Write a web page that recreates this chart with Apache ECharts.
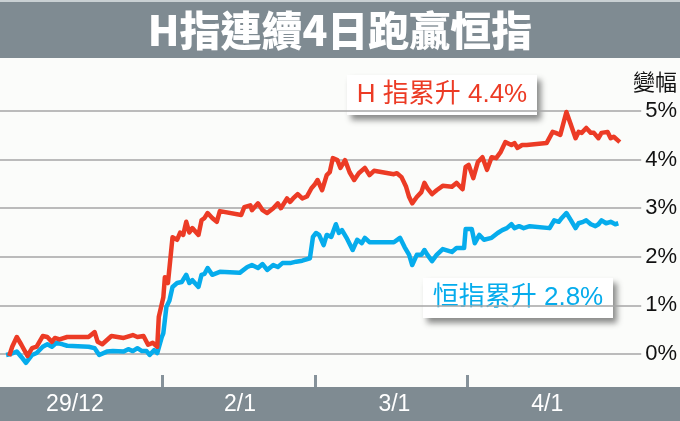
<!DOCTYPE html>
<html>
<head>
<meta charset="utf-8">
<script src="https://cdn.jsdelivr.net/npm/echarts@6/dist/echarts.min.js"></script>
<style>html,body{margin:0;padding:0;background:#fbfcfa;}#c{width:680px;height:421px;}</style>
</head>
<body>
<div id="c"></div>
<script>
// Trading-day labels (one per day)
const tickLabels = ['29/12', '2/1', '3/1', '4/1'];
const titleText = 'H指連續4日跑贏恒指';
const yUnitName = '變幅';

// H-share index cumulative change (%) — time in trading days from start
const hT = [0.00,0.02,0.05,0.08,0.12,0.15,0.18,0.22,0.25,0.28,0.30,0.33,0.38,0.52,0.56,0.58,0.61,0.67,0.75,0.81,0.84,0.88,0.91,0.94,0.97,0.98,
  1.01,1.02,1.04,1.07,1.10,1.12,1.14,1.16,1.18,1.20,1.24,1.26,1.28,1.30,1.33,1.36,1.38,1.52,1.54,1.58,1.59,1.63,1.66,1.69,1.73,1.76,1.78,1.82,1.84,1.86,1.89,1.92,1.95,1.98,
  2.00,2.02,2.05,2.08,2.10,2.12,2.15,2.17,2.20,2.23,2.26,2.29,2.33,2.36,2.39,2.52,2.54,2.57,2.60,2.62,2.64,2.67,2.70,2.72,2.74,2.77,2.80,2.84,2.90,2.93,2.97,2.99,
  3.01,3.04,3.07,3.10,3.13,3.16,3.19,3.22,3.25,3.29,3.31,3.33,3.36,3.39,3.52,3.56,3.58,3.61,3.65,3.68,3.71,3.73,3.75,3.78,3.81,3.83,3.86,3.88,3.92,3.94,3.96,4.00];
const hV = [-0.04,0.15,0.35,0.19,-0.04,0.12,0.15,0.37,0.35,0.25,0.33,0.30,0.35,0.35,0.45,0.25,0.20,0.37,0.33,0.39,0.35,0.37,0.19,0.23,0.15,0.76,
  1.17,1.58,1.46,2.40,2.35,2.50,2.45,2.72,2.50,2.59,2.45,2.75,2.80,2.90,2.80,2.72,2.94,2.86,3.02,3.06,2.96,3.10,2.96,2.90,3.00,3.10,3.00,3.20,3.13,3.20,3.29,3.20,3.24,3.41,
  3.48,3.58,3.37,3.68,3.74,4.03,3.99,3.83,3.99,3.74,3.58,3.72,3.83,3.68,3.77,3.70,3.72,3.64,3.44,3.23,3.10,3.23,3.33,3.52,3.41,3.29,3.37,3.46,3.44,3.52,3.39,3.85,
  3.89,3.62,3.95,4.05,3.79,4.05,4.03,4.16,4.36,4.30,4.34,4.24,4.30,4.30,4.34,4.57,4.55,4.51,4.98,4.71,4.44,4.57,4.55,4.65,4.55,4.55,4.44,4.55,4.57,4.44,4.47,4.36];

// Hang Seng index cumulative change (%)
const hsT = [-0.02,0.01,0.05,0.08,0.11,0.15,0.18,0.22,0.25,0.28,0.31,0.35,0.38,0.52,0.56,0.59,0.64,0.68,0.75,0.78,0.81,0.84,0.87,0.90,0.92,0.95,0.97,
  1.00,1.01,1.03,1.05,1.07,1.10,1.13,1.16,1.18,1.20,1.24,1.26,1.28,1.30,1.33,1.38,1.51,1.56,1.59,1.63,1.66,1.69,1.73,1.76,1.79,1.84,1.88,1.92,1.93,1.97,1.99,
  2.01,2.03,2.06,2.08,2.11,2.14,2.16,2.18,2.21,2.25,2.28,2.31,2.33,2.36,2.52,2.56,2.59,2.62,2.64,2.67,2.70,2.72,2.74,2.77,2.80,2.84,2.90,2.93,2.98,2.99,
  3.03,3.05,3.08,3.11,3.16,3.20,3.23,3.26,3.29,3.31,3.34,3.37,3.41,3.54,3.57,3.60,3.62,3.65,3.68,3.71,3.73,3.76,3.78,3.81,3.84,3.86,3.88,3.91,3.94,3.97,3.99];
const hsV = [-0.02,0.00,0.05,-0.06,-0.18,-0.02,0.02,0.15,0.20,0.15,0.23,0.20,0.17,0.15,0.12,-0.02,0.05,0.06,0.05,0.10,0.06,0.12,0.06,0.06,-0.02,0.08,0.02,
  0.35,0.43,0.97,1.10,1.38,1.46,1.48,1.63,1.46,1.52,1.38,1.63,1.65,1.77,1.63,1.69,1.67,1.79,1.83,1.77,1.85,1.73,1.83,1.79,1.87,1.87,1.90,1.92,1.90,1.97,2.41,
  2.49,2.45,2.24,2.45,2.41,2.67,2.49,2.55,2.39,2.14,2.35,2.28,2.39,2.30,2.30,2.39,2.20,2.04,1.83,2.04,2.04,2.14,2.04,1.91,2.04,2.16,2.10,2.18,2.18,2.57,
  2.57,2.28,2.45,2.35,2.39,2.49,2.55,2.59,2.67,2.59,2.63,2.59,2.63,2.59,2.75,2.72,2.80,2.90,2.75,2.59,2.69,2.72,2.75,2.67,2.63,2.67,2.75,2.69,2.72,2.67,2.69];

// Callout totals
const hTotal = 4.4;
const hsTotal = 2.8;

const redColor = '#ec3b25';
const blueColor = '#06acec';
const bandColor = '#7f8b92';
const latin = '"Liberation Sans", Arial, "Noto Sans CJK TC", sans-serif';

const zip = (t, v) => t.map((x, i) => [x, v[i]]);

const chart = echarts.init(document.getElementById('c'), null, { renderer: 'canvas' });
chart.setOption({
  backgroundColor: '#fbfcfa',
  animation: false,
  title: {
    text: titleText,
    left: 'center',
    top: 5,
    textStyle: { color: '#ffffff', fontSize: 41, fontWeight: 900, fontFamily: '"Noto Sans CJK TC", sans-serif' }
  },
  grid: [
    { left: 0, right: 38, top: 111, bottom: 67 },
    { left: 0, right: 38, top: 111, bottom: 34 }
  ],
  xAxis: [
    { type: 'value', gridIndex: 0, min: -0.06, max: 4.14, show: false },
    {
      type: 'value', gridIndex: 1, min: -0.06, max: 4.14,
      axisLine: { show: false },
      splitLine: { show: false },
      axisTick: { show: true, customValues: [1, 2, 3], length: 12, inside: true, lineStyle: { color: '#86929a', width: 3 } },
      axisLabel: {
        customValues: [0.43, 1.51, 2.52, 3.52],
        formatter: v => tickLabels[Math.floor(v)],
        color: '#ffffff', fontSize: 23, margin: 6, fontFamily: latin
      }
    }
  ],
  yAxis: [
    {
      type: 'value', gridIndex: 0,
      position: 'right',
      min: 0, max: 5, interval: 1,
      axisLine: { show: false },
      axisTick: { show: false },
      axisLabel: { formatter: '{value}%', color: '#111', fontSize: 22, margin: 4, fontFamily: latin },
      splitLine: { lineStyle: { color: '#a6a6a6', width: 1.5 } }
    },
    { type: 'value', gridIndex: 1, show: false, splitLine: { show: false } }
  ],
  graphic: [
    { type: 'rect', z: -10, shape: { x: 0, y: 0, width: 680, height: 58 }, style: { fill: bandColor } },
    { type: 'rect', z: -9, shape: { x: 0, y: 0, width: 680, height: 2 }, style: { fill: '#c9d0d3' } },
    { type: 'rect', z: -10, shape: { x: 0, y: 387, width: 680, height: 34 }, style: { fill: bandColor } },
    { type: 'text', z: 50, left: 633, top: 71, style: { text: yUnitName, fill: '#111', fontSize: 22, fontFamily: '"Noto Sans CJK TC", sans-serif' } },
    {
      type: 'group', z: 50, left: 347, top: 75,
      children: [
        { type: 'rect', shape: { x: 0, y: 0, width: 190, height: 40 }, style: { fill: '#ffffff', shadowBlur: 6, shadowOffsetX: 4, shadowOffsetY: 5, shadowColor: 'rgba(0,0,0,0.45)' } },
        { type: 'text', style: { x: 95, y: 20, text: 'H 指累升 ' + hTotal.toFixed(1) + '%', fill: redColor, fontSize: 26, fontFamily: latin, align: 'center', verticalAlign: 'middle' } }
      ]
    },
    {
      type: 'group', z: 50, left: 423, top: 278,
      children: [
        { type: 'rect', shape: { x: 0, y: 0, width: 190, height: 40 }, style: { fill: '#ffffff', shadowBlur: 6, shadowOffsetX: 4, shadowOffsetY: 5, shadowColor: 'rgba(0,0,0,0.45)' } },
        { type: 'text', style: { x: 95, y: 20, text: '恒指累升 ' + hsTotal.toFixed(1) + '%', fill: blueColor, fontSize: 26, fontFamily: latin, align: 'center', verticalAlign: 'middle' } }
      ]
    }
  ],
  series: [
    { name: '恒指', type: 'line', xAxisIndex: 0, yAxisIndex: 0, data: zip(hsT, hsV), showSymbol: false, clip: false, z: 2,
      lineStyle: { color: blueColor, width: 4.5, join: 'round' }, itemStyle: { color: blueColor } },
    { name: 'H指', type: 'line', xAxisIndex: 0, yAxisIndex: 0, data: zip(hT, hV), showSymbol: false, clip: false, z: 3,
      lineStyle: { color: redColor, width: 4.5, join: 'round' }, itemStyle: { color: redColor } }
  ]
});
</script>
</body>
</html>
